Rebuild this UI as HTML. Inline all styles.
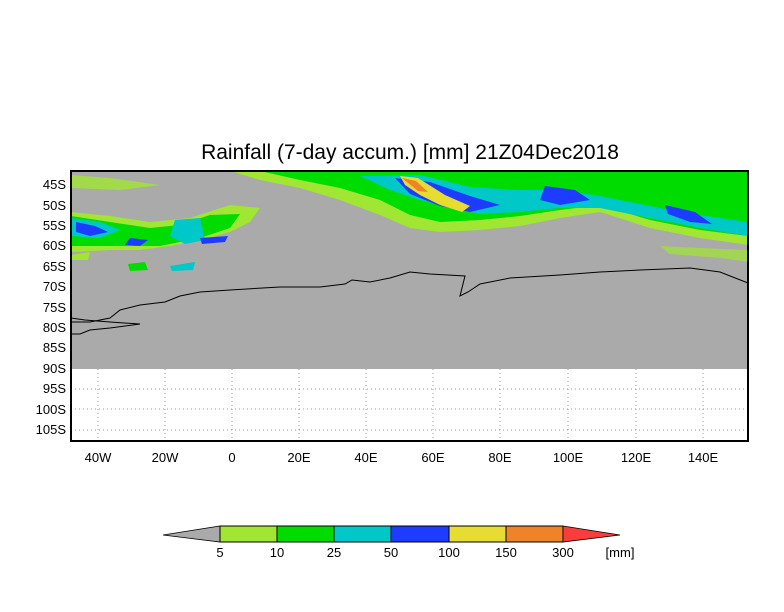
<!DOCTYPE html>
<html><head><style>
body{margin:0;background:#fff;width:784px;height:612px;overflow:hidden;font-family:"Liberation Sans",sans-serif}
svg{display:block}
</style></head><body>
<svg width="784" height="612" xmlns="http://www.w3.org/2000/svg" font-family="Liberation Sans, sans-serif">
<text x="410" y="159" font-size="21" text-anchor="middle" fill="#000">Rainfall (7-day accum.) [mm] 21Z04Dec2018</text>
<defs><clipPath id="c"><rect x="71" y="171" width="677" height="198"/></clipPath></defs>
<rect x="71" y="171" width="677" height="198" fill="#aaaaaa"/>
<g clip-path="url(#c)">
<!-- top band -->
<path d="M230,171 L748,171 L748,245 L700,238 L650,228 L600,212 L560,218 L520,226 L480,230 L440,232 L410,228 L380,215 L340,200 L300,188 L260,180Z" fill="#a0e632"/>
<path d="M260,171 L748,171 L748,236 L700,230 L650,220 L600,205 L560,210 L520,216 L480,220 L440,222 L410,215 L380,200 L340,188 L300,180Z" fill="#00dc00"/>
<path d="M360,176 L420,175 L470,187 L520,190 L560,190 L600,196 L640,204 L680,212 L720,218 L748,222 L748,236 L700,228 L650,218 L600,208 L560,208 L520,212 L480,214 L450,208 L420,200 L390,190Z" fill="#00c8c8"/>
<path d="M395,178 L430,182 L470,196 L500,205 L470,212 L440,206 L410,194Z" fill="#1e3cff"/>
<path d="M400,176 L418,178 L445,195 L470,206 L462,212 L440,205 L420,195 L405,185Z" fill="#e6dc32"/>
<path d="M402,178 L416,181 L428,192 L418,191Z" fill="#f08228"/>
<path d="M545,186 L575,190 L590,200 L560,205 L540,200Z" fill="#1e3cff"/>
<path d="M665,205 L695,212 L712,224 L690,222 L668,214Z" fill="#1e3cff"/>
<path d="M71,175 L110,178 L160,185 L120,190 L71,188Z" fill="#a0e632" opacity="0.8"/>
<!-- left blobs -->
<path d="M71,212 L110,216 L150,222 L190,218 L230,205 L260,208 L250,222 L230,232 L200,240 L170,246 L140,250 L110,250 L71,252Z" fill="#a0e632"/>
<path d="M71,216 L110,222 L150,228 L180,225 L210,215 L240,214 L230,228 L200,238 L160,246 L120,246 L71,246Z" fill="#00dc00"/>
<path d="M71,218 L100,222 L120,230 L100,238 L71,236Z" fill="#00c8c8"/>
<path d="M76,222 L95,226 L108,232 L90,236 L76,232Z" fill="#1e3cff"/>
<path d="M175,220 L200,218 L205,240 L185,244 L170,236Z" fill="#00c8c8"/>
<path d="M130,238 L148,240 L140,246 L125,245Z" fill="#1e3cff"/>
<path d="M200,238 L228,236 L225,242 L202,244Z" fill="#1e3cff"/>
<path d="M128,264 L145,262 L148,270 L130,271Z" fill="#00dc00"/>
<path d="M170,266 L195,262 L193,270 L172,271Z" fill="#00c8c8"/>
<path d="M71,255 L90,252 L88,260 L71,260Z" fill="#a0e632"/>
<path d="M660,246 L700,248 L748,250 L748,262 L720,258 L670,254Z" fill="#a0e632" opacity="0.7"/>
</g>
<!-- coastline -->
<polyline points="71,322 90,322 110,318 120,310 140,305 165,302 180,296 200,292 230,290 280,287 320,287 345,284 352,280 370,282 390,278 410,272 430,274 465,276 460,296 468,292 480,284 510,278 560,275 600,272 640,270 690,268 720,272 748,283" fill="none" stroke="#000" stroke-width="1"/>
<polyline points="71,318 85,320 110,322 140,324 110,328 90,330 80,334 71,334" fill="none" stroke="#000" stroke-width="1"/>
<g stroke="#999" stroke-dasharray="1,3" stroke-width="1">
<line x1="71" y1="389" x2="748" y2="389"/><line x1="71" y1="409" x2="748" y2="409"/><line x1="71" y1="430" x2="748" y2="430"/>
<line x1="98" y1="369" x2="98" y2="441"/><line x1="165" y1="369" x2="165" y2="441"/><line x1="232" y1="369" x2="232" y2="441"/><line x1="299" y1="369" x2="299" y2="441"/><line x1="366" y1="369" x2="366" y2="441"/><line x1="433" y1="369" x2="433" y2="441"/><line x1="500" y1="369" x2="500" y2="441"/><line x1="568" y1="369" x2="568" y2="441"/><line x1="636" y1="369" x2="636" y2="441"/><line x1="703" y1="369" x2="703" y2="441"/>
</g>
<rect x="71" y="171" width="677" height="270" fill="none" stroke="#000" stroke-width="2"/>
<g font-size="13" fill="#000" text-anchor="end">
<text x="66" y="189">45S</text><text x="66" y="210">50S</text><text x="66" y="230">55S</text><text x="66" y="250">60S</text><text x="66" y="271">65S</text><text x="66" y="291">70S</text><text x="66" y="312">75S</text><text x="66" y="332">80S</text><text x="66" y="352">85S</text><text x="66" y="373">90S</text><text x="66" y="393">95S</text><text x="66" y="414">100S</text><text x="66" y="434">105S</text>
</g>
<g font-size="13" fill="#000" text-anchor="middle">
<text x="98" y="462">40W</text><text x="165" y="462">20W</text><text x="232" y="462">0</text><text x="299" y="462">20E</text><text x="366" y="462">40E</text><text x="433" y="462">60E</text><text x="500" y="462">80E</text><text x="568" y="462">100E</text><text x="636" y="462">120E</text><text x="703" y="462">140E</text>
</g>
<polygon points="163,535 220,526 220,542" fill="#aaaaaa" stroke="#000" stroke-width="0.8"/>
<rect x="220" y="526" width="57" height="16" fill="#a0e632" stroke="#000"/>
<rect x="277" y="526" width="57" height="16" fill="#00dc00" stroke="#000"/>
<rect x="334" y="526" width="57" height="16" fill="#00c8c8" stroke="#000"/>
<rect x="391" y="526" width="58" height="16" fill="#1e3cff" stroke="#000"/>
<rect x="449" y="526" width="57" height="16" fill="#e6dc32" stroke="#000"/>
<rect x="506" y="526" width="57" height="16" fill="#f08228" stroke="#000"/>
<polygon points="563,526 620,535 563,542" fill="#fa3c3c" stroke="#000" stroke-width="0.8"/>
<g font-size="13" fill="#000" text-anchor="middle">
<text x="220" y="557">5</text><text x="277" y="557">10</text><text x="334" y="557">25</text><text x="391" y="557">50</text><text x="449" y="557">100</text><text x="506" y="557">150</text><text x="563" y="557">300</text><text x="620" y="557">[mm]</text>
</g>
</svg>
</body></html>
